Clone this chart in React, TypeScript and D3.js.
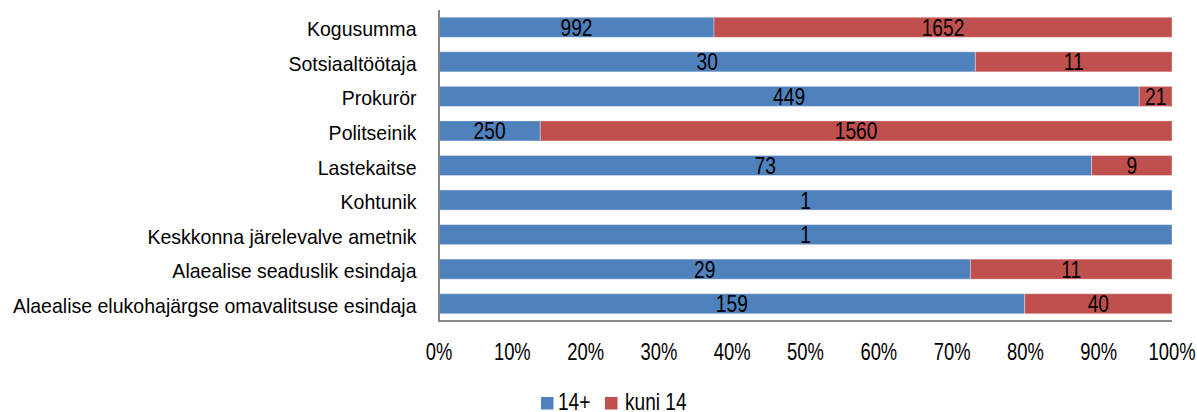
import React from "react";
import * as d3 from "d3";

const categories = [
  "Kogusumma",
  "Sotsiaaltöötaja",
  "Prokurör",
  "Politseinik",
  "Lastekaitse",
  "Kohtunik",
  "Keskkonna järelevalve ametnik",
  "Alaealise seaduslik esindaja",
  "Alaealise elukohajärgse omavalitsuse esindaja",
];
const over14 = [992, 30, 449, 250, 73, 1, 1, 29, 159];
const under14 = [1652, 11, 21, 1560, 9, 0, 0, 11, 40];
const seriesNames = ["14+", "kuni 14"];
const colors = ["#4F81BD", "#C0504D"];
const tickValues = [0, 0.1, 0.2, 0.3, 0.4, 0.5, 0.6, 0.7, 0.8, 0.9, 1];

const W = 1197;
const H = 412;
const left = 439;
const right = 1172;
const top = 10;
const bottom = 321;
const FONT = "'Liberation Sans', Arial, sans-serif";

function SText({ x, y, s, size, anchor, children }: any) {
  return (
    <text
      transform={`translate(${x},${y}) scale(${s},1)`}
      textAnchor={anchor}
      fontSize={size}
      fill="#000"
    >
      {children}
    </text>
  );
}

export default function App() {
  const x = d3.scaleLinear().domain([0, 1]).range([left, right]);
  const y = d3.scaleBand().domain(categories).range([top, bottom]).paddingInner(0.42).paddingOuter(0.21);
  const fmt = d3.format(".0%");

  const rows = categories.map((c, i) => {
    const total = over14[i] + under14[i];
    const a = over14[i] / total;
    return {
      c,
      segs: [
        { x0: 0, x1: a, v: over14[i], k: 0 },
        { x0: a, x1: 1, v: under14[i], k: 1 },
      ],
    };
  });

  return (
    <svg width={W} height={H} style={{ position: "absolute", left: 0, top: 0, background: "#fff" }} fontFamily={FONT}>
      {rows.map((r) => {
        const cy = y(r.c)! + y.bandwidth() / 2;
        return (
          <g key={r.c}>
            {r.segs.filter((s) => s.v > 0).map((s) => (
              <rect
                key={s.k}
                x={x(s.x0)}
                y={y(r.c)!}
                width={x(s.x1) - x(s.x0)}
                height={y.bandwidth()}
                fill={colors[s.k]}
                stroke="rgba(255,255,255,0.35)"
                strokeWidth={1}
              />
            ))}
            {r.segs.filter((s) => s.v > 0).map((s) => (
              <SText key={"t" + s.k} x={(x(s.x0) + x(s.x1)) / 2} y={cy + 8.5} s={0.8} size={24} anchor="middle">
                {s.v}
              </SText>
            ))}
            <SText x={416.5} y={cy + 9} s={0.93} size={21} anchor="end">
              {r.c}
            </SText>
          </g>
        );
      })}
      <line x1={left} x2={left} y1={top} y2={bottom} stroke="#888" strokeWidth={2} />
      <line x1={left - 1} x2={right} y1={bottom} y2={bottom} stroke="#888" strokeWidth={2} />
      {tickValues.map((t) => (
        <SText key={t} x={x(t)} y={360} s={0.8} size={23} anchor="middle">
          {fmt(t)}
        </SText>
      ))}
      <g>
        <rect x={541} y={397} width={12.5} height={12.5} fill={colors[0]} />
        <SText x={558} y={409.5} s={0.83} size={23} anchor="start">{seriesNames[0]}</SText>
        <rect x={605} y={397} width={12.5} height={12.5} fill={colors[1]} />
        <SText x={625} y={409.5} s={0.83} size={23} anchor="start">{seriesNames[1]}</SText>
      </g>
    </svg>
  );
}
